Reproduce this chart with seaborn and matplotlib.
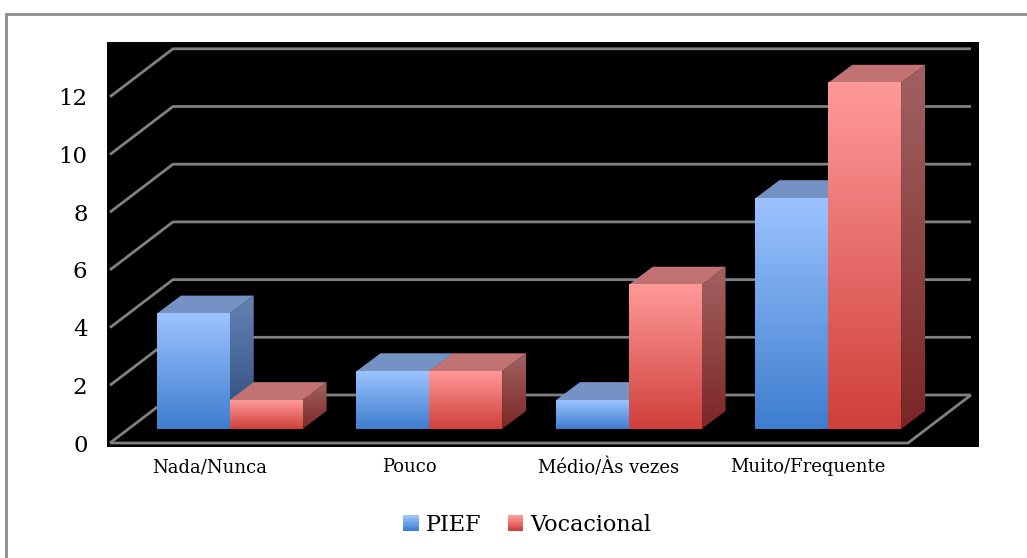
import numpy as np
import pandas as pd
import matplotlib
matplotlib.use("Agg")
import matplotlib.pyplot as plt
import seaborn as sns
from matplotlib.colors import LinearSegmentedColormap
from matplotlib.patches import Polygon, Rectangle, Patch
from matplotlib.legend_handler import HandlerBase
from matplotlib.lines import Line2D

# DATA
categories = ["Nada/Nunca", "Pouco", "Médio/Às vezes", "Muito/Frequente"]
pief = [4, 2, 1, 8]
vocacional = [1, 2, 5, 12]
series_names = ["PIEF", "Vocacional"]
y_ticks = [0, 2, 4, 6, 8, 10, 12]

df = pd.DataFrame({
    "Categoria": categories * 2,
    "Grupo": [series_names[0]] * len(pief) + [series_names[1]] * len(vocacional),
    "Valor": pief + vocacional,
})

# colours (front gradient bottom->top, side gradient bottom->top, top face)
front_cmaps = {
    "PIEF": LinearSegmentedColormap.from_list("pf", ["#3d7dcf", "#9cc3ff"]),
    "Vocacional": LinearSegmentedColormap.from_list("vf", ["#cf3f3b", "#ff9a99"]),
}
side_cmaps = {
    "PIEF": LinearSegmentedColormap.from_list("ps", ["#2b4a7c", "#6583b3"]),
    "Vocacional": LinearSegmentedColormap.from_list("vs", ["#7c2626", "#a26262"]),
}
top_colors = {"PIEF": "#7493c4", "Vocacional": "#c27272"}
grid_color = "#808080"

sns.set_style("white")
plt.rcParams["font.family"] = ["DejaVu Serif"]
plt.rcParams["text.color"] = "black"
plt.rcParams["xtick.color"] = "black"
plt.rcParams["ytick.color"] = "black"

W, H = 1027, 558
fig = plt.figure(figsize=(W / 100, H / 100), dpi=100)
ax = fig.add_axes([107 / W, 1 - 447 / H, (979 - 107) / W, (447 - 42) / H])

# pixel -> data helpers (front plane scale)
PX_X, PX_Y = 199.5, 28.85
def dx(px):
    return px / PX_X
def dy(px):
    return px / PX_Y

DEPTH_X, DEPTH_Y = dx(63), dy(48)      # floor depth
BAR_X, BAR_Y = dx(20), dy(14)          # bar front offset into the floor
SIDE_X, SIDE_Y = dx(24), dy(18)        # bar depth

sns.barplot(data=df, x="Categoria", y="Valor", hue="Grupo", order=categories,
            hue_order=series_names, width=0.73, errorbar=None, legend=False, ax=ax)

bars = []
for i, p in enumerate(ax.patches):
    grp = series_names[0] if i < len(categories) else series_names[1]
    bars.append((p, grp))
    p.set_visible(False)
bars.sort(key=lambda b: b[0].get_x())

grad = np.linspace(0, 1, 256).reshape(-1, 1)
for k, (p, grp) in enumerate(bars):
    z = 3 + k * 3
    x0 = p.get_x() + BAR_X
    x1 = x0 + p.get_width()
    y0 = p.get_y() + BAR_Y
    y1 = y0 + p.get_height()
    # front face
    ax.imshow(grad, extent=(x0, x1, y0, y1), origin="lower", aspect="auto",
              cmap=front_cmaps[grp], interpolation="bilinear", zorder=z + 2)
    # side face
    side = Polygon([(x1, y0), (x1 + SIDE_X, y0 + SIDE_Y), (x1 + SIDE_X, y1 + SIDE_Y), (x1, y1)],
                   closed=True, facecolor="none", edgecolor="none", transform=ax.transData)
    ax.add_patch(side)
    im = ax.imshow(grad, extent=(x1, x1 + SIDE_X, y0, y1 + SIDE_Y), origin="lower",
                   aspect="auto", cmap=side_cmaps[grp], interpolation="bilinear", zorder=z)
    im.set_clip_path(side)
    # top face
    ax.add_patch(Polygon([(x0, y1), (x0 + SIDE_X, y1 + SIDE_Y), (x1 + SIDE_X, y1 + SIDE_Y), (x1, y1)],
                         closed=True, facecolor=top_colors[grp], edgecolor="none", zorder=z + 1))

# 3D walls: gridlines with diagonals, and floor
left, right = -0.5, len(categories) - 0.5
for v in y_ticks:
    ax.plot([left, left + DEPTH_X, right + DEPTH_X], [v, v + DEPTH_Y, v + DEPTH_Y],
            color=grid_color, lw=2, zorder=1, solid_capstyle="butt")
ax.plot([left, right, right + DEPTH_X], [0, 0, DEPTH_Y], color=grid_color, lw=2, zorder=2,
        solid_capstyle="butt")

ax.set_xlim(left - dx(3), right + dx(71))
ax.set_ylim(-dy(4), dy(443 - 42))
ax.set_facecolor("black")
for s in ax.spines.values():
    s.set_visible(False)
ax.set_xlabel("")
ax.set_ylabel("")
ax.set_yticks(y_ticks)
ax.set_yticklabels([str(t) for t in y_ticks], fontsize=16.5)
ax.tick_params(axis="y", length=0, pad=14)
ax.tick_params(axis="x", length=0, pad=8, labelsize=13)


class GradHandler(HandlerBase):
    def create_artists(self, legend, orig_handle, xdescent, ydescent, width, height, fontsize, trans):
        cmap = front_cmaps[orig_handle.get_label()]
        n = 12
        arts = []
        for j in range(n):
            arts.append(Rectangle((-xdescent, -ydescent + height * j / n), width, height / n + 0.3,
                                  facecolor=cmap(j / (n - 1)), edgecolor="none", transform=trans))
        return arts


handles = [Patch(label=n) for n in series_names]
fig.legend(handles=handles, labels=series_names, loc="center",
           bbox_to_anchor=(527 / W, 1 - 525 / H), ncol=2, frameon=False, fontsize=16,
           handlelength=0.7, handleheight=0.7, handletextpad=0.3, columnspacing=1.2,
           handler_map={Patch: GradHandler()})

# outer chart border (top and left visible)
fig.add_artist(Line2D([6 / W, 1], [1 - 14 / H, 1 - 14 / H], transform=fig.transFigure,
                      color="#8c8c8c", lw=2))
fig.add_artist(Line2D([6 / W, 6 / W], [0, 1 - 14 / H], transform=fig.transFigure,
                      color="#8c8c8c", lw=2))

fig.savefig("out.png", dpi=100)
